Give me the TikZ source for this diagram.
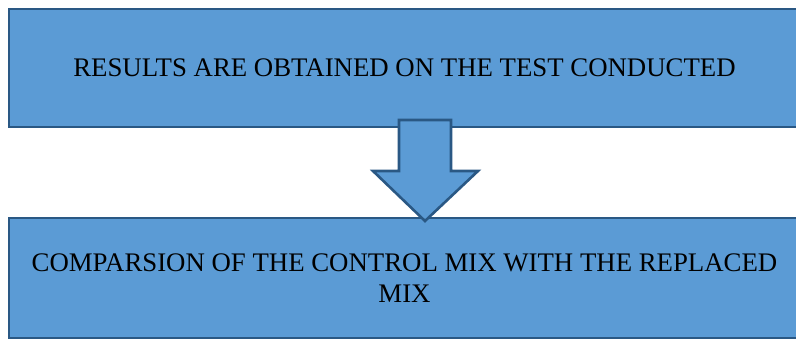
\documentclass[tikz,border=0pt]{standalone}
\usepackage{fontspec}
\setmainfont{Liberation Serif}
\definecolor{boxfill}{HTML}{5B9BD5}
\definecolor{boxline}{HTML}{2A5884}
\begin{document}
\begin{tikzpicture}[x=1pt,y=-1pt,
  blockbox/.style={draw=boxline, fill=boxfill, line width=2.6pt, inner sep=0pt,
    align=center, font=\fontsize{26.8}{30.5}\selectfont, text=black},
  blockarrow/.style={draw=boxline, fill=boxfill, line width=2.6pt, line join=miter}]
\useasboundingbox (0,0) rectangle (796,340);
\clip (0,0) rectangle (796,340);
\node[blockbox, minimum width=791pt, minimum height=118pt] (top) at (404.5,68) {RESULTS ARE OBTAINED ON THE TEST CONDUCTED};
\node[blockbox, minimum width=791pt, minimum height=120pt] (bot) at (404.5,278) {COMPARSION OF THE CONTROL MIX WITH THE REPLACED\\MIX};
\draw[blockarrow] (399,120) -- (451,120) -- (451,171) -- (478,171) -- (425,221) -- (373,171) -- (399,171) -- cycle;
\end{tikzpicture}
\end{document}
